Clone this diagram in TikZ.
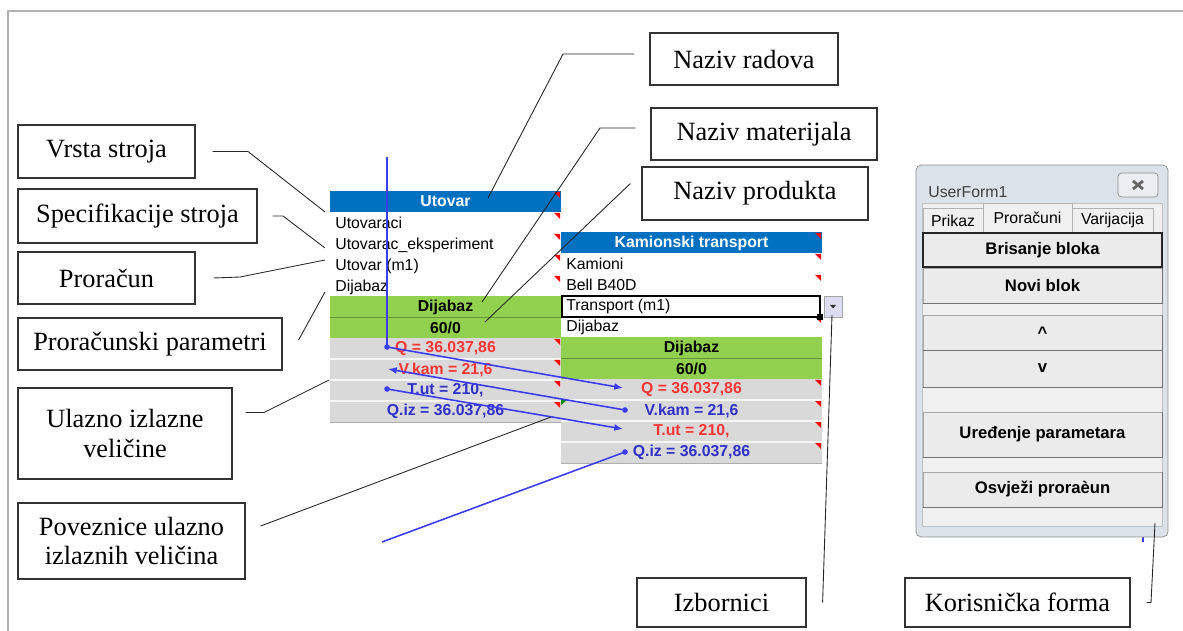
\documentclass[tikz,border=0pt]{standalone}
\usepackage{fontspec}
\setmainfont{Liberation Serif}
\newfontfamily\xls{Liberation Sans}
\usetikzlibrary{calc,arrows.meta}
\definecolor{xhead}{HTML}{0070C0}
\definecolor{xgreen}{HTML}{92D050}
\definecolor{xgray}{HTML}{D9D9D9}
\definecolor{xred}{HTML}{FF3535}
\definecolor{xblue}{HTML}{3030C8}
\definecolor{lnk}{HTML}{3C3CF0}
\definecolor{frm}{HTML}{DCE2EA}
\definecolor{frmbg}{HTML}{F0F0F0}
\definecolor{btnf}{HTML}{EBEBEB}

\tikzset{
  lbl/.style={draw=black!80, line width=0.7pt, fill=white, align=center, inner sep=0pt,
    font=\fontsize{15}{17}\selectfont},
  lead/.style={black!85, line width=0.5pt},
  cell/.style={inner sep=0pt, font=\xls\fontsize{9}{10}\selectfont},
  bcell/.style={inner sep=0pt, font=\xls\bfseries\fontsize{9}{10}\selectfont},
  lnkline/.style={lnk, line width=0.9pt},
  tab/.style={draw=black!30, fill=frmbg, inner sep=0pt, font=\xls\fontsize{9}{10}\selectfont},
  btn/.style={draw=black!35, fill=btnf, line width=0.5pt, minimum width=4.78cm, inner sep=0pt,
    font=\xls\bfseries\fontsize{9.5}{11}\selectfont},
}

\begin{document}
\begin{tikzpicture}[x=0.02cm, y=-0.02cm]
	\useasboundingbox (0,0) rectangle (1183,631);
	\draw[black!30, line width=1.2pt] (8,631) -- (8,11) -- (1183,11);

	% blok Utovar
	\fill[xhead] (330,191) rectangle (561,212);
	\fill[xgreen] (330,296) rectangle (561,338);
	\fill[xgray] (330,338) rectangle (561,422);
	\draw[xgreen!70!black, line width=0.5pt] (330,317) -- (561,317);
	\foreach \y in {359,380,401}
		\draw[white!75!xgray, line width=0.8pt] (330,\y) -- (561,\y);
	\draw[xgray!80!black, line width=0.5pt] (330,422) -- (561,422);
	\node[bcell, text=white] (uHead) at (445.5,201.5) {Utovar};
	\node[cell, anchor=west] (uR1) at (335,223) {Utovaraci};
	\node[cell, anchor=west] (uR2) at (335,245) {Utovarac\_eksperiment};
	\node[cell, anchor=west] (uR3) at (335,266) {Utovar (m1)};
	\node[cell, anchor=west] (uR4) at (335,287) {Dijabaz};
	\node[bcell] (uMat) at (445.5,307) {Dijabaz};
	\node[bcell] (uNum) at (445.5,328) {60/0};
	\node[bcell, text=xred] (uQ) at (445.5,348.5) {Q = 36.037,86};
	\node[bcell, text=xred] (uV) at (445.5,369.5) {V.kam = 21,6};
	\node[bcell, text=xblue] (uT) at (445.5,390.5) {T.ut = 210,};
	\node[bcell, text=xblue] (uZ) at (445.5,411.5) {Q.iz = 36.037,86};
	\foreach \y in {192,213,234,255,276,339,360,381,402}
		\fill[red] (560,\y) -- ++(-6,0) -- ++(6,6) -- cycle;

	% blok Kamionski transport
	\fill[xhead] (561,232) rectangle (822,253);
	\fill[xgreen] (561,337) rectangle (822,379);
	\fill[xgray] (561,379) rectangle (822,463);
	\draw[xgreen!70!black, line width=0.5pt] (561,358) -- (822,358);
	\foreach \y in {400,421,442}
		\draw[white!75!xgray, line width=0.8pt] (561,\y) -- (822,\y);
	\draw[xgray!80!black, line width=0.5pt] (561,463) -- (822,463);
	\node[bcell, text=white] (kHead) at (691.5,243) {Kamionski transport};
	\node[cell, anchor=west] (kR1) at (566,264) {Kamioni};
	\node[cell, anchor=west] (kR2) at (566,285) {Bell B40D};
	\node[cell, anchor=west] (kR3) at (566,306) {Transport (m1)};
	\node[cell, anchor=west] (kR4) at (566,327) {Dijabaz};
	\node[bcell] (kMat) at (691.5,348) {Dijabaz};
	\node[bcell] (kNum) at (691.5,369) {60/0};
	\node[bcell, text=xred] (kQ) at (691.5,389.5) {Q = 36.037,86};
	\node[bcell, text=xblue] (kV) at (691.5,410.5) {V.kam = 21,6};
	\node[bcell, text=xred] (kT) at (691.5,431.5) {T.ut = 210,};
	\node[bcell, text=xblue] (kZ) at (691.5,452.5) {Q.iz = 36.037,86};
	\foreach \y in {233,254,275,317,380,401,422,443}
		\fill[red] (821,\y) -- ++(-6,0) -- ++(6,6) -- cycle;
	\fill[green!55!black] (561,400) -- ++(6,0) -- ++(-6,5) -- cycle;
	\draw[black, line width=1.6pt] (562,296) rectangle (820,317);
	\fill[black] (817,314) rectangle (823,320);
	\node[draw=black!35, fill=blue!8!frmbg, minimum width=0.36cm, minimum height=0.42cm, inner sep=0pt] (drop) at (833,306.5) {};
	\fill[black!80] ($(drop.center)+(-3,-1.5)$) -- ++(6,0) -- ++(-3,3.5) -- cycle;

	% poveznice
	\coordinate (vtop) at (387,157);
	\coordinate (uQd) at (387,347);
	\coordinate (uVd) at (388,369);
	\coordinate (uTd) at (387,389);
	\coordinate (kQd) at (623,388);
	\coordinate (kVd) at (625,410);
	\coordinate (kTd) at (623,429);
	\coordinate (kZd) at (625,452);
	\coordinate (zfree) at (382,542);
	\draw[lnkline] (vtop) -- (uQd);
	\draw[lnkline, -{Latex[length=5pt,width=4pt]}] (uQd) -- (kQd);
	\draw[lnkline, -{Latex[length=5pt,width=4pt]}] (kVd) -- (uVd);
	\draw[lnkline, -{Latex[length=5pt,width=4pt]}] (uTd) -- (kTd);
	\draw[lnkline] (zfree) -- (kZd);
	\foreach \d in {uQd,uTd,kVd,kZd}
		\fill[lnk] (\d) circle (1.6pt);
	\draw[lnkline, line width=0.6pt] (1143,536) -- (1143,542);

	% UserForm1
	\filldraw[fill=frm, draw=black!45, rounded corners=3pt] (916,165) rectangle (1168,537);
	\filldraw[fill=frmbg, draw=black!25] (922,203) rectangle (1162,526);
	\node[cell, anchor=west, text=black!75] (fTitle) at (928,192) {UserForm1};
	\node[draw=black!45, fill=frm!60!white, rounded corners=2pt, minimum width=0.8cm, minimum height=0.48cm] (fClose) at (1138,185) {};
	\draw[black!60, line width=1.6pt] ($(fClose.center)+(-5,-4)$) -- ($(fClose.center)+(5,4)$);
	\draw[black!60, line width=1.6pt] ($(fClose.center)+(-5,4)$) -- ($(fClose.center)+(5,-4)$);
	\node[tab, minimum width=1.2cm, minimum height=0.5cm] (tabPrikaz) at (953,220.5) {Prikaz};
	\node[tab, minimum width=1.62cm, minimum height=0.5cm] (tabVarij) at (1112.5,220.5) {Varijacija};
	\node[tab, minimum width=1.78cm, minimum height=0.6cm] (tabProracuni) at (1027.5,218) {Proračuni};
	\node[btn, minimum height=0.68cm, draw=black!85, line width=1.2pt] (bBrisanje) at (1042.5,250) {Brisanje bloka};
	\node[btn, minimum height=0.70cm] (bNovi) at (1042.5,285.5) {Novi blok};
	\node[btn, minimum height=0.70cm] (bGore) at (1042.5,332.5) {\textasciicircum};
	\node[btn, minimum height=0.74cm] (bDolje) at (1042.5,368.5) {v};
	\node[btn, minimum height=0.90cm] (bUredi) at (1042.5,434.5) {Uređenje parametara};
	\node[btn, minimum height=0.70cm] (bOsvjezi) at (1042.5,489.5) {Osvježi proraèun};
	\foreach \b in {bNovi,bGore,bDolje,bUredi,bOsvjezi}
		\draw[black!55, line width=1pt] (\b.south west) -- (\b.south east) -- (\b.north east);

	% oznake
	\node[lbl, minimum width=3.76cm, minimum height=1.04cm] (radova) at (744,59) {Naziv radova};
	\node[lbl, minimum width=4.52cm, minimum height=1.04cm] (materijal) at (764,134) {Naziv materijala};
	\node[lbl, minimum width=4.52cm, minimum height=1.06cm] (produkt) at (755,193.5) {Naziv produkta};
	\node[lbl, minimum width=3.54cm, minimum height=1.06cm] (vrsta) at (106.5,151.5) {Vrsta stroja};
	\node[lbl, minimum width=4.78cm, minimum height=1.08cm] (spec) at (137.5,216) {Specifikacije stroja};
	\node[lbl, minimum width=3.54cm, minimum height=1.04cm] (proracun) at (106.5,278) {Proračun};
	\node[lbl, minimum width=5.28cm, minimum height=1.04cm] (param) at (150,344) {Proračunski parametri};
	\node[lbl, minimum width=4.28cm, minimum height=1.82cm] (ulazno) at (125,433.5) {Ulazno izlazne\\veličine};
	\node[lbl, minimum width=4.54cm, minimum height=1.52cm] (poveznice) at (131.5,541) {Poveznice ulazno\\izlaznih veličina};
	\node[lbl, minimum width=3.38cm, minimum height=0.98cm] (izbornici) at (721.5,602.5) {Izbornici};
	\node[lbl, minimum width=4.5cm, minimum height=0.98cm] (korisnicka) at (1017.5,602.5) {Korisnička forma};

	\coordinate (eRadova) at (488,198);
	\coordinate (eMaterijal) at (482,302);
	\coordinate (eProdukt) at (485,322);
	\coordinate (eVrsta) at (325,212);
	\coordinate (eSpec) at (325,248);
	\coordinate (eProracun) at (325,260);
	\coordinate (eParam) at (325,292);
	\coordinate (eUlazno) at (329,380);
	\coordinate (ePoveznice) at (551,417);
	\coordinate (eIzbornici) at (832,315);
	\coordinate (eForma) at (1155,523);
	\draw[lead] ($(radova.west)+(-15,-5)$) -- (563,54) -- (eRadova);
	\draw[lead] ($(materijal.west)+(-15,-6)$) -- (600,128) -- (eMaterijal);
	\draw[lead] ($(produkt.west)+(-11,-10)$) -- (eProdukt);
	\draw[lead] ($(vrsta.east)+(17,0)$) -- (248,151.5) -- (eVrsta);
	\draw[lead] ($(spec.east)+(15,0)$) -- (283,216) -- (eSpec);
	\draw[lead] ($(proracun.east)+(18,0)$) -- (240,277) -- (eProracun);
	\draw[lead] ($(param.east)+(16,-4)$) -- (eParam);
	\draw[lead] ($(ulazno.east)+(13,-21)$) -- (264,412.5) -- (eUlazno);
	\draw[lead] ($(poveznice.east)+(15,-15)$) -- (ePoveznice);
	\draw[lead] ($(izbornici.east)+(16,0)$) -- (eIzbornici);
	\draw[lead] ($(korisnicka.east)+(16,0)$) -- (1151,602.5) -- (eForma);
\end{tikzpicture}
\end{document}
